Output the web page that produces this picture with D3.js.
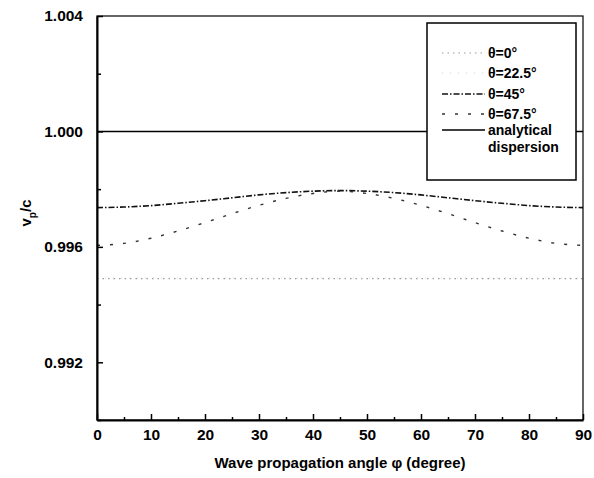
<!DOCTYPE html>
<html>
<head>
<meta charset="utf-8">
<script src="https://cdn.jsdelivr.net/npm/d3@7"></script>
<style>
  body { margin: 0; background: #fff; }
  svg { font-family: "Liberation Sans", Arial, sans-serif; font-weight: bold; }
</style>
</head>
<body>
<svg></svg>
<script>
var width = 594;
var height = 478;
var margin = {top: 16, right: 11, bottom: 58, left: 97};

// wave propagation angle phi (degree)
var phi = [0, 5, 10, 15, 20, 25, 30, 35, 40, 45, 50, 55, 60, 65, 70, 75, 80, 85, 90];
// v_p / c for each theta
var theta0 = [0.99490, 0.99490, 0.99490, 0.99490, 0.99490, 0.99490, 0.99490, 0.99490, 0.99490, 0.99490,
              0.99490, 0.99490, 0.99490, 0.99490, 0.99490, 0.99490, 0.99490, 0.99490, 0.99490];
var theta22 = [0.99492, 0.99492, 0.99492, 0.99492, 0.99492, 0.99492, 0.99492, 0.99492, 0.99492, 0.99492,
               0.99492, 0.99492, 0.99492, 0.99492, 0.99492, 0.99492, 0.99492, 0.99492, 0.99492];
var theta45 = [0.99736, 0.99738, 0.99743, 0.99751, 0.99760, 0.99770, 0.99780, 0.99788, 0.99793, 0.99795,
               0.99793, 0.99788, 0.99780, 0.99770, 0.99760, 0.99751, 0.99743, 0.99738, 0.99736];
var theta67 = [0.99605, 0.99612, 0.99630, 0.99655, 0.99684, 0.99715, 0.99744, 0.99768, 0.99785, 0.99793,
               0.99785, 0.99768, 0.99744, 0.99715, 0.99684, 0.99655, 0.99630, 0.99612, 0.99605];
var analytical = [1.0, 1.0, 1.0, 1.0, 1.0, 1.0, 1.0, 1.0, 1.0, 1.0, 1.0, 1.0, 1.0, 1.0, 1.0, 1.0, 1.0, 1.0, 1.0];

var xTicks = [0, 10, 20, 30, 40, 50, 60, 70, 80, 90];
var xMinor = [5, 15, 25, 35, 45, 55, 65, 75, 85];
var yTicks = [0.992, 0.996, 1.000, 1.004];
var yMinor = [0.990, 0.994, 0.998, 1.002];

var seriesNames = ["θ=0°", "θ=22.5°", "θ=45°", "θ=67.5°", "analytical"];
var seriesValues = [theta0, theta22, theta45, theta67, analytical];
var seriesStyle = [
  {stroke: "#9a9a9a", width: 1.2, dash: "1.5,4"},
  {stroke: "#d0d0d0", width: 1, dash: "1,7"},
  {stroke: "#111", width: 1.6, dash: "6,2,1.5,2"},
  {stroke: "#333", width: 1.4, dash: "3,10"},
  {stroke: "#000", width: 1.6, dash: null}
];

var svg = d3.select("svg")
    .attr("width", width)
    .attr("height", height);

var x = d3.scaleLinear()
    .domain([0, 90])
    .range([margin.left, width - margin.right]);

var y = d3.scaleLinear()
    .domain([0.990, 1.004])
    .range([height - margin.bottom, margin.top]);

var line = d3.line()
    .x((d, i) => x(phi[i]))
    .y(d => y(d))
    .curve(d3.curveMonotoneX);

// series
svg.append("g")
    .classed("series", true)
  .selectAll("path")
  .data(seriesValues)
  .enter()
  .append("path")
    .attr("fill", "none")
    .attr("stroke", (d, i) => seriesStyle[i].stroke)
    .attr("stroke-width", (d, i) => seriesStyle[i].width)
    .attr("stroke-dasharray", (d, i) => seriesStyle[i].dash)
    .attr("d", line);

// frame
svg.append("rect")
    .attr("x", x(0))
    .attr("y", y(1.004))
    .attr("width", x(90) - x(0))
    .attr("height", y(0.990) - y(1.004))
    .attr("fill", "none")
    .attr("stroke", "#000")
    .attr("stroke-width", 1.2);

// bottom axis
svg.append("g")
    .attr("transform", `translate(0, ${y(0.990)})`)
    .call(d3.axisBottom(x).tickValues(xTicks).tickSizeInner(-6).tickSizeOuter(0).tickPadding(9).tickFormat(d3.format("d")));
svg.append("g")
    .attr("transform", `translate(0, ${y(0.990)})`)
    .call(d3.axisBottom(x).tickValues(xMinor).tickSizeInner(-3).tickSizeOuter(0).tickFormat(""))
    .select(".domain").remove();

// left axis
svg.append("g")
    .attr("transform", `translate(${x(0)}, 0)`)
    .call(d3.axisLeft(y).tickValues(yTicks).tickSizeInner(-6).tickSizeOuter(0).tickPadding(14).tickFormat(d3.format(".3f")));
svg.append("g")
    .attr("transform", `translate(${x(0)}, 0)`)
    .call(d3.axisLeft(y).tickValues(yMinor).tickSizeInner(-4).tickSizeOuter(0).tickFormat(""))
    .select(".domain").remove();

svg.selectAll(".domain").attr("stroke-width", 2);
svg.selectAll(".tick line").attr("stroke-width", 1.5);
svg.selectAll(".tick text")
    .attr("font-size", 15.5)
    .attr("font-family", "Liberation Sans, Arial, sans-serif")
    .attr("font-weight", "bold")
    .attr("fill", "#000");

// axis titles
svg.append("text")
    .attr("x", (x(0) + x(90)) / 2)
    .attr("y", 468)
    .attr("text-anchor", "middle")
    .attr("font-size", 15)
    .text("Wave propagation angle φ (degree)");

var yTitle = svg.append("text")
    .attr("transform", `translate(31, 213) rotate(-90)`)
    .attr("text-anchor", "middle")
    .attr("font-size", 15);
yTitle.append("tspan").text("v");
yTitle.append("tspan").attr("dy", 5).attr("font-size", 10).text("p");
yTitle.append("tspan").attr("dy", -5).text("/c");

// legend
var legend = svg.append("g").classed("legend", true);
legend.append("rect")
    .attr("x", 427)
    .attr("y", 23)
    .attr("width", 149)
    .attr("height", 157)
    .attr("fill", "#fff")
    .attr("stroke", "#000")
    .attr("stroke-width", 1.5);

var legendY = [53, 73, 94, 114, 130];
var rows = legend.selectAll(".row")
  .data(seriesNames)
  .enter()
  .append("g")
    .classed("row", true)
    .attr("transform", (d, i) => `translate(0, ${legendY[i]})`);

rows.append("line")
    .attr("x1", 442)
    .attr("x2", 485)
    .attr("stroke", (d, i) => seriesStyle[i].stroke)
    .attr("stroke-width", (d, i) => seriesStyle[i].width)
    .attr("stroke-dasharray", (d, i) => seriesStyle[i].dash);

rows.append("text")
    .attr("x", 488)
    .attr("dy", "0.35em")
    .attr("font-size", 14)
    .text(d => d);

legend.append("text")
    .attr("x", 488)
    .attr("y", 147)
    .attr("dy", "0.35em")
    .attr("font-size", 14)
    .text("dispersion");
</script>
</body>
</html>
